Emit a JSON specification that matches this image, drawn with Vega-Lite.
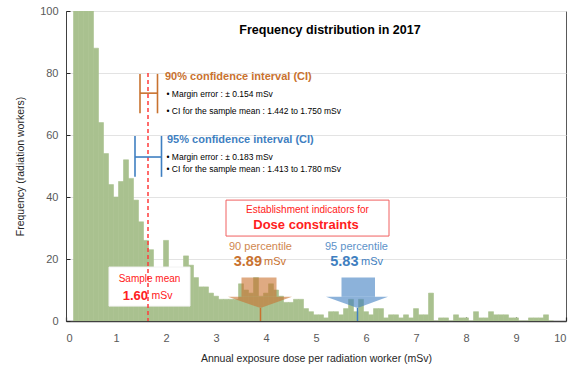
{
  "$schema": "https://vega.github.io/schema/vega-lite/v6.json",
  "width": 500,
  "height": 310,
  "autosize": "none",
  "padding": {"left": 66, "top": 11, "right": 11, "bottom": 50},
  "config": {
    "font": "Liberation Sans",
    "view": {"stroke": "#595959", "strokeWidth": 1},
    "axis": {"labelColor": "#595959", "labelFontSize": 11, "titleColor": "#262626", "titleFontSize": 10.5, "titleFontWeight": "normal"}
  },
  "datasets": {
    "hist": [
      {"lo":0.15,"hi":0.25,"n":150},{"lo":0.25,"hi":0.35,"n":150},{"lo":0.35,"hi":0.45,"n":150},{"lo":0.45,"hi":0.55,"n":150},
      {"lo":0.55,"hi":0.65,"n":88},{"lo":0.65,"hi":0.75,"n":64},{"lo":0.75,"hi":0.85,"n":54},{"lo":0.85,"hi":0.95,"n":44},
      {"lo":0.95,"hi":1.05,"n":40},{"lo":1.05,"hi":1.15,"n":45},{"lo":1.15,"hi":1.25,"n":52},{"lo":1.25,"hi":1.35,"n":46},
      {"lo":1.35,"hi":1.45,"n":39},{"lo":1.45,"hi":1.55,"n":32},{"lo":1.55,"hi":1.65,"n":26},{"lo":1.65,"hi":1.75,"n":23},
      {"lo":1.75,"hi":1.85,"n":16},{"lo":1.85,"hi":1.95,"n":15},{"lo":1.95,"hi":2.05,"n":26},{"lo":2.05,"hi":2.15,"n":15},
      {"lo":2.15,"hi":2.25,"n":14},{"lo":2.25,"hi":2.35,"n":17},{"lo":2.35,"hi":2.45,"n":21},{"lo":2.45,"hi":2.55,"n":18},
      {"lo":2.55,"hi":2.65,"n":14},{"lo":2.65,"hi":2.75,"n":11},{"lo":2.75,"hi":2.85,"n":11},{"lo":2.85,"hi":2.95,"n":9},
      {"lo":2.95,"hi":3.05,"n":8},{"lo":3.05,"hi":3.15,"n":7},{"lo":3.15,"hi":3.25,"n":7},{"lo":3.25,"hi":3.35,"n":7},
      {"lo":3.35,"hi":3.45,"n":7},{"lo":3.45,"hi":3.55,"n":12},{"lo":3.55,"hi":3.65,"n":10},{"lo":3.65,"hi":3.75,"n":9},
      {"lo":3.75,"hi":3.85,"n":14},{"lo":3.85,"hi":3.95,"n":8},{"lo":3.95,"hi":4.05,"n":9},{"lo":4.05,"hi":4.15,"n":12},
      {"lo":4.15,"hi":4.25,"n":10},{"lo":4.25,"hi":4.35,"n":8},{"lo":4.35,"hi":4.45,"n":6},{"lo":4.45,"hi":4.55,"n":6},
      {"lo":4.55,"hi":4.65,"n":7},{"lo":4.65,"hi":4.75,"n":7},{"lo":4.75,"hi":4.85,"n":4},{"lo":4.85,"hi":4.95,"n":3},
      {"lo":4.95,"hi":5.05,"n":2},{"lo":5.05,"hi":5.15,"n":2},{"lo":5.15,"hi":5.25,"n":1},{"lo":5.25,"hi":5.35,"n":3},
      {"lo":5.35,"hi":5.45,"n":3},{"lo":5.45,"hi":5.55,"n":2},{"lo":5.55,"hi":5.65,"n":4},{"lo":5.65,"hi":5.75,"n":7},
      {"lo":5.75,"hi":5.85,"n":3},{"lo":5.85,"hi":5.95,"n":7},{"lo":5.95,"hi":6.05,"n":3},{"lo":6.05,"hi":6.15,"n":2},
      {"lo":6.15,"hi":6.25,"n":4},{"lo":6.25,"hi":6.35,"n":4},{"lo":6.35,"hi":6.45,"n":1},{"lo":6.45,"hi":6.55,"n":2},
      {"lo":6.55,"hi":6.65,"n":2},{"lo":6.65,"hi":6.75,"n":1},{"lo":6.75,"hi":6.85,"n":2},{"lo":6.85,"hi":6.95,"n":1},
      {"lo":6.95,"hi":7.05,"n":4},{"lo":7.05,"hi":7.15,"n":2},{"lo":7.15,"hi":7.25,"n":2},{"lo":7.25,"hi":7.35,"n":9},
      {"lo":7.35,"hi":7.45,"n":0},{"lo":7.45,"hi":7.55,"n":1},{"lo":7.55,"hi":7.65,"n":1},{"lo":7.65,"hi":7.75,"n":0},
      {"lo":7.75,"hi":7.85,"n":2},{"lo":7.85,"hi":7.95,"n":1},{"lo":7.95,"hi":8.05,"n":1},{"lo":8.05,"hi":8.15,"n":0},
      {"lo":8.15,"hi":8.25,"n":3},{"lo":8.25,"hi":8.35,"n":1},{"lo":8.35,"hi":8.45,"n":1},{"lo":8.45,"hi":8.55,"n":3},
      {"lo":8.55,"hi":8.65,"n":2},{"lo":8.65,"hi":8.75,"n":2},{"lo":8.75,"hi":8.85,"n":2},{"lo":8.85,"hi":8.95,"n":1},
      {"lo":8.95,"hi":9.05,"n":1},{"lo":9.05,"hi":9.15,"n":0},{"lo":9.15,"hi":9.25,"n":0},{"lo":9.25,"hi":9.35,"n":1},
      {"lo":9.35,"hi":9.45,"n":1},{"lo":9.45,"hi":9.55,"n":1},{"lo":9.55,"hi":9.65,"n":2},{"lo":9.65,"hi":9.75,"n":0}
    ]
  },
  "layer": [
    {
      "data": {"name": "hist"},
      "mark": {"type": "rect", "fill": "#a9c18f", "stroke": "#a9c18f", "strokeWidth": 0.6, "clip": true},
      "encoding": {
        "x": {"field": "lo", "type": "quantitative", "scale": {"domain": [0, 10], "nice": false},
          "axis": {"title": "Annual exposure dose per radiation worker (mSv)", "values": [0,0.5,1,1.5,2,2.5,3,3.5,4,4.5,5,5.5,6,6.5,7,7.5,8,8.5,9,9.5,10],
            "labelExpr": "datum.value % 1 ? '' : datum.label", "grid": false, "domainColor": "#404040", "domainWidth": 1.5,
            "tickColor": "#262626", "tickSize": -4, "tickWidth": 1.2, "labelPadding": 15, "titlePadding": 10}},
        "x2": {"field": "hi"},
        "y": {"field": "n", "type": "quantitative", "scale": {"domain": [0, 100], "nice": false},
          "axis": {"title": "Frequency (radiation workers)", "values": [0,20,40,60,80,100], "grid": true, "gridColor": "#e3e3e3",
            "domainColor": "#404040", "tickColor": "#262626", "tickSize": -4, "labelPadding": 12, "titlePadding": 14}},
        "y2": {"datum": 0}
      }
    },
    {
      "data": {"values": [{"a": 0.86, "b": 2.48, "t": 17.4, "u": 4.8}]},
      "mark": {"type": "rect", "fill": "white", "stroke": "#f2f2f2"},
      "encoding": {"x": {"field": "a", "type": "quantitative"}, "x2": {"field": "b"}, "y": {"field": "t", "type": "quantitative"}, "y2": {"field": "u"}}
    },
    {
      "data": {"values": [{"a": 3.2, "b": 6.46, "t": 39.0, "u": 27.4}]},
      "mark": {"type": "rect", "fill": "white", "stroke": "#f06060", "strokeWidth": 1},
      "encoding": {"x": {"field": "a", "type": "quantitative"}, "x2": {"field": "b"}, "y": {"field": "t", "type": "quantitative"}, "y2": {"field": "u"}}
    },
    {
      "data": {"values": [{"p": "p90", "a": 3.51, "b": 4.21, "t": 14, "u": 7.8}, {"p": "p95", "a": 5.51, "b": 6.18, "t": 14, "u": 7.8}]},
      "mark": {"type": "rect", "opacity": 0.6},
      "encoding": {"x": {"field": "a", "type": "quantitative"}, "x2": {"field": "b"}, "y": {"field": "t", "type": "quantitative"}, "y2": {"field": "u"},
        "color": {"field": "p", "type": "nominal", "scale": {"domain": ["p90", "p95"], "range": ["#c9722f", "#3f7fc1"]}, "legend": null}}
    },
    {
      "data": {"values": [
        {"p": "p90", "x": 3.24, "t": 7.8, "u": 7.8}, {"p": "p90", "x": 3.89, "t": 7.8, "u": 4.2}, {"p": "p90", "x": 4.52, "t": 7.8, "u": 7.8},
        {"p": "p95", "x": 5.2, "t": 7.8, "u": 7.8}, {"p": "p95", "x": 5.83, "t": 7.8, "u": 4.2}, {"p": "p95", "x": 6.44, "t": 7.8, "u": 7.8}
      ]},
      "mark": {"type": "area", "opacity": 0.6, "orient": "vertical"},
      "encoding": {"x": {"field": "x", "type": "quantitative"}, "y": {"field": "t", "type": "quantitative"}, "y2": {"field": "u"},
        "color": {"field": "p", "type": "nominal", "legend": null}, "detail": {"field": "p"}}
    },
    {
      "data": {"values": [{"p": "p90", "x": 3.89, "t": 4.2, "u": 0}, {"p": "p95", "x": 5.83, "t": 4.2, "u": 0}]},
      "mark": {"type": "rule", "strokeWidth": 1.5},
      "encoding": {"x": {"field": "x", "type": "quantitative"}, "y": {"field": "t", "type": "quantitative"}, "y2": {"field": "u"},
        "color": {"field": "p", "type": "nominal", "legend": null}}
    },
    {
      "data": {"values": [{"x": 1.64, "t": 80, "u": 0}]},
      "mark": {"type": "rule", "color": "#ff3b3b", "strokeWidth": 1.5, "strokeDash": [4, 3]},
      "encoding": {"x": {"field": "x", "type": "quantitative"}, "y": {"field": "t", "type": "quantitative"}, "y2": {"field": "u"}}
    },
    {
      "data": {"values": [
        {"p": "p90", "a": 1.48, "b": 1.48, "t": 79.7, "u": 67},
        {"p": "p90", "a": 1.83, "b": 1.83, "t": 79.7, "u": 67},
        {"p": "p90", "a": 1.48, "b": 1.83, "t": 73.5, "u": 73.5},
        {"p": "p95", "a": 1.38, "b": 1.38, "t": 59.7, "u": 46.5},
        {"p": "p95", "a": 1.91, "b": 1.91, "t": 59.7, "u": 46.5},
        {"p": "p95", "a": 1.38, "b": 1.91, "t": 52.9, "u": 52.9}
      ]},
      "mark": {"type": "rule", "strokeWidth": 1.6},
      "encoding": {"x": {"field": "a", "type": "quantitative"}, "x2": {"field": "b"}, "y": {"field": "t", "type": "quantitative"}, "y2": {"field": "u"},
        "color": {"field": "p", "type": "nominal", "legend": null}}
    },
    {
      "data": {"values": [{"x": 5.28, "y": 93.9, "s": "Frequency distribution in 2017"}]},
      "mark": {"type": "text", "fontWeight": "bold", "fontSize": 12.5, "color": "#000000", "align": "center", "baseline": "middle"},
      "encoding": {"x": {"field": "x", "type": "quantitative"}, "y": {"field": "y", "type": "quantitative"}, "text": {"field": "s"}}
    },
    {
      "data": {"values": [{"p": "p90", "x": 1.98, "y": 78.6, "s": "90% confidence interval (CI)"}, {"p": "p95", "x": 2.02, "y": 58.4, "s": "95% confidence interval (CI)"}]},
      "mark": {"type": "text", "fontWeight": "bold", "fontSize": 11, "align": "left", "baseline": "middle"},
      "encoding": {"x": {"field": "x", "type": "quantitative"}, "y": {"field": "y", "type": "quantitative"}, "text": {"field": "s"},
        "color": {"field": "p", "type": "nominal", "legend": null}}
    },
    {
      "data": {"values": [
        {"x": 2.01, "y": 73.1, "s": "• Margin error : ± 0.154 mSv"},
        {"x": 2.01, "y": 67.8, "s": "• CI for the sample mean : 1.442 to 1.750 mSv"},
        {"x": 2.01, "y": 52.8, "s": "• Margin error : ± 0.183 mSv"},
        {"x": 2.01, "y": 48.9, "s": "• CI for the sample mean : 1.413 to 1.780 mSv"}
      ]},
      "mark": {"type": "text", "fontSize": 8.5, "color": "#000000", "align": "left", "baseline": "middle"},
      "encoding": {"x": {"field": "x", "type": "quantitative"}, "y": {"field": "y", "type": "quantitative"}, "text": {"field": "s"}}
    },
    {
      "data": {"values": [{"x": 1.67, "y": 13.5, "s": "Sample mean"}, {"x": 4.83, "y": 35.8, "s": "Establishment indicators for"}]},
      "mark": {"type": "text", "fontSize": 10, "color": "#ff2020", "align": "center", "baseline": "middle"},
      "encoding": {"x": {"field": "x", "type": "quantitative"}, "y": {"field": "y", "type": "quantitative"}, "text": {"field": "s"}}
    },
    {
      "data": {"values": [{"x": 4.8, "y": 31.0, "s": "Dose constraints"}]},
      "mark": {"type": "text", "fontSize": 13, "fontWeight": "bold", "color": "#ff2020", "align": "center", "baseline": "middle"},
      "encoding": {"x": {"field": "x", "type": "quantitative"}, "y": {"field": "y", "type": "quantitative"}, "text": {"field": "s"}}
    },
    {
      "data": {"values": [{"x": 1.64, "y": 8.1, "s": "1.60"}]},
      "mark": {"type": "text", "fontSize": 13, "fontWeight": "bold", "color": "#ff2020", "align": "right", "baseline": "middle"},
      "encoding": {"x": {"field": "x", "type": "quantitative"}, "y": {"field": "y", "type": "quantitative"}, "text": {"field": "s"}}
    },
    {
      "data": {"values": [{"x": 1.71, "y": 8.1, "s": "mSv"}]},
      "mark": {"type": "text", "fontSize": 10.5, "color": "#ff2020", "align": "left", "baseline": "middle"},
      "encoding": {"x": {"field": "x", "type": "quantitative"}, "y": {"field": "y", "type": "quantitative"}, "text": {"field": "s"}}
    },
    {
      "data": {"values": [{"p": "p90", "x": 3.89, "y": 24.0, "s": "90 percentile"}, {"p": "p95", "x": 5.81, "y": 24.0, "s": "95 percentile"}]},
      "mark": {"type": "text", "fontSize": 11, "align": "center", "baseline": "middle", "opacity": 0.85},
      "encoding": {"x": {"field": "x", "type": "quantitative"}, "y": {"field": "y", "type": "quantitative"}, "text": {"field": "s"},
        "color": {"field": "p", "type": "nominal", "legend": null}}
    },
    {
      "data": {"values": [{"p": "p90", "x": 3.92, "y": 19.1, "s": "3.89"}, {"p": "p95", "x": 5.85, "y": 19.1, "s": "5.83"}]},
      "mark": {"type": "text", "fontSize": 14.5, "fontWeight": "bold", "align": "right", "baseline": "middle"},
      "encoding": {"x": {"field": "x", "type": "quantitative"}, "y": {"field": "y", "type": "quantitative"}, "text": {"field": "s"},
        "color": {"field": "p", "type": "nominal", "legend": null}}
    },
    {
      "data": {"values": [{"p": "p90", "x": 3.96, "y": 19.1, "s": "mSv"}, {"p": "p95", "x": 5.9, "y": 19.1, "s": "mSv"}]},
      "mark": {"type": "text", "fontSize": 11, "align": "left", "baseline": "middle"},
      "encoding": {"x": {"field": "x", "type": "quantitative"}, "y": {"field": "y", "type": "quantitative"}, "text": {"field": "s"},
        "color": {"field": "p", "type": "nominal", "legend": null}}
    }
  ]
}
